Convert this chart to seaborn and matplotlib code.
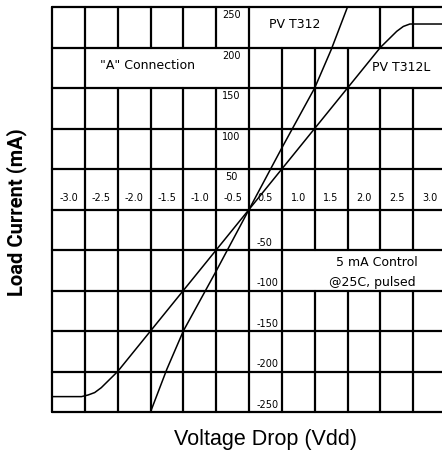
import numpy as np
import pandas as pd
import matplotlib.pyplot as plt
import seaborn as sns

# curves (Volt, mA)
t312_v = [-1.5, -1.25, -1.0, -0.5, 0.0, 0.5, 1.0, 1.25, 1.5]
t312_ma = [-250, -197, -150, -76, 0, 76, 150, 197, 250]
t312l_v = [-3.0, -2.55, -2.45, -2.35, -2.25, -2.15, -2.0, 0.0, 2.0, 2.15, 2.25, 2.35, 2.45, 3.0]
t312l_ma = [-231, -231, -229, -226, -220, -212, -200, 0, 200, 212, 220, 226, 229, 229]

# grid and tick labels
x_grid = [-3.0, -2.5, -2.0, -1.5, -1.0, -0.5, 0.0, 0.5, 1.0, 1.5, 2.0, 2.5, 3.0]
y_grid = [-250, -200, -150, -100, -50, 0, 50, 100, 150, 200, 250]
x_ticks = [-3.0, -2.5, -2.0, -1.5, -1.0, -0.5, 0.5, 1.0, 1.5, 2.0, 2.5, 3.0]
x_tick_labels = ['-3.0', '-2.5', '-2.0', '-1.5', '-1.0', '-0.5', '0.5', '1.0', '1.5', '2.0', '2.5', '3.0']
y_ticks = [250, 200, 150, 100, 50, -50, -100, -150, -200, -250]
y_tick_labels = ['250', '200', '150', '100', '50', '-50', '-100', '-150', '-200', '-250']

# cells where the grid is left open for the notes: (x0, x1, y0, y1)
boxes = [(-2.5, 0.0, 150, 200), (0.0, 2.0, 200, 250), (1.5, 3.0, 150, 200), (0.5, 3.0, -100, -50)]

sns.set_style("white")
plt.rcParams['text.color'] = 'black'
fig = plt.figure(figsize=(4.42, 4.5), dpi=100)
ax = fig.add_axes([52 / 442, 38 / 450, 394 / 442, 405 / 450])
ax.set_xlim(-3.0, 3.0)
ax.set_ylim(-250, 250)
ax.axis('off')

grid_kw = dict(color='black', lw=1.6, clip_on=False)
for y in y_grid:
    ax.plot([x_grid[0], x_grid[-1]], [y, y], **grid_kw)
for x in x_grid:
    for y0, y1 in zip(y_grid[:-1], y_grid[1:]):
        inside = any(b[0] < x < b[1] and b[2] == y0 and b[3] == y1 for b in boxes)
        if not inside:
            ax.plot([x, x], [y0, y1], **grid_kw)

sns.lineplot(x=t312_v, y=t312_ma, ax=ax, color='black', lw=1.1, estimator=None, sort=False)
sns.lineplot(x=t312l_v, y=t312l_ma, ax=ax, color='black', lw=1.1, estimator=None, sort=False)

note_font = ['DejaVu Sans']
for v, lab in zip(x_ticks, x_tick_labels):
    cx = v + 0.25 if v < 0 else v - 0.25
    ax.text(cx, 14, lab, ha='center', va='center', fontsize=7, family=note_font)
for v, lab in zip(y_ticks, y_tick_labels):
    if v > 0:
        ax.text(-0.27, v - 10, lab, ha='center', va='center', fontsize=7, family=note_font)
    else:
        ax.text(0.11, v + 9, lab, ha='left', va='center', fontsize=7, family=note_font)

ax.text(-1.55, 178, '"A" Connection', ha='center', va='center', fontsize=9, family=note_font)
ax.text(0.7, 228, 'PV T312', ha='center', va='center', fontsize=9, family=note_font)
ax.text(2.32, 175, 'PV T312L', ha='center', va='center', fontsize=9, family=note_font)
ax.text(1.94, -65, '5 mA Control', ha='center', va='center', fontsize=9, family=note_font)
ax.text(1.88, -90, '@25C, pulsed', ha='center', va='center', fontsize=9, family=note_font)

fig.text(17 / 442, 1 - 212 / 450, 'Load Current (mA)', rotation=90, ha='center', va='center',
         fontsize=14.5, fontweight='bold', family=['Roboto', 'DejaVu Sans'])
fig.text(265 / 442, 1 - 440 / 450, 'Voltage Drop (Vdd)', ha='center', va='center',
         fontsize=15.5, family=['Liberation Sans', 'DejaVu Sans'])

fig.savefig('out.png', dpi=100)
